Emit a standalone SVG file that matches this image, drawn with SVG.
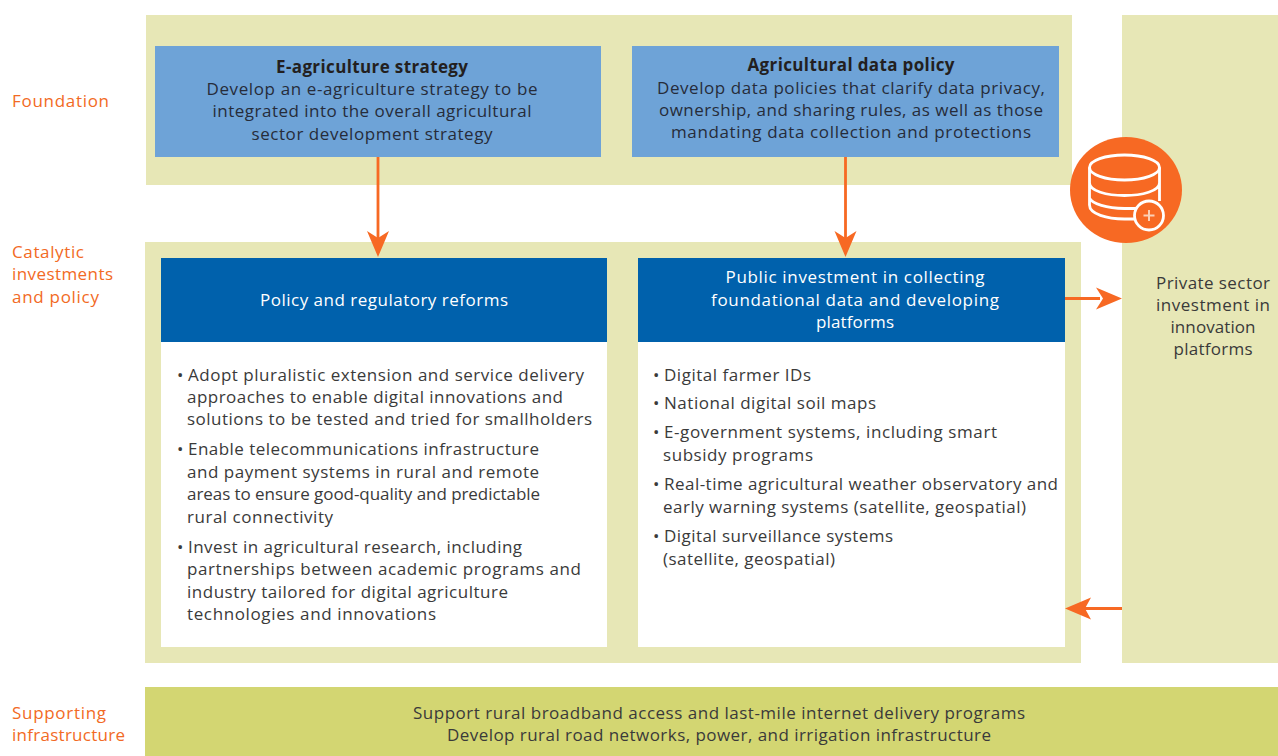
<svg xmlns="http://www.w3.org/2000/svg" width="1278" height="756" viewBox="0 0 1278 756">
<style>
text{font-family:"Open Sans","Noto Sans","Liberation Sans",sans-serif;font-size:17px;fill:#3a3a3a}
.c{text-anchor:middle}
.lab{fill:#f26a24}
.dk{fill:#262c3a}
.b{font-weight:700;fill:#231f20}
.w{fill:#fff}
.band{fill:#e7e7b6}
.bl{fill:#6ea3d7}
.hd{fill:#0061ac}
.cn{stroke:#f76923;stroke-width:2.800;fill:none}
.ah{fill:#f76923}
.ic{fill:none;stroke:#fff;stroke-width:2.800}
</style>
<rect width="1278" height="756" fill="#fff"/>
<g id="labels">
<text class="lab" x="12" y="106.500" textLength="97">Foundation</text>
<text class="lab" x="12" y="258" textLength="72">Catalytic</text>
<text class="lab" x="12" y="280" textLength="101">investments</text>
<text class="lab" x="12" y="303" textLength="87">and policy</text>
<text class="lab" x="12" y="719" textLength="94">Supporting</text>
<text class="lab" x="12" y="741" textLength="113">infrastructure</text>
</g>
<g id="foundation-band"><rect class="band" x="146" y="15" width="926" height="170"/></g>
<g id="catalytic-band"><rect class="band" x="145" y="242" width="936" height="421"/></g>
<g id="private-sector">
<rect class="band" x="1122" y="15" width="156" height="648"/>
<text class="c" x="1213" y="288.500" textLength="114">Private sector</text>
<text class="c" x="1213" y="311" textLength="114">investment in</text>
<text class="c" x="1213" y="333" textLength="85">innovation</text>
<text class="c" x="1213" y="355" textLength="79">platforms</text>
</g>
<g id="e-agriculture-strategy">
<rect class="bl" x="155" y="46" width="446" height="111"/>
<text class="c b" x="372" y="73" textLength="192">E-agriculture strategy</text>
<text class="c dk" x="372" y="95" textLength="331">Develop an e-agriculture strategy to be</text>
<text class="c dk" x="372" y="117" textLength="319">integrated into the overall agricultural</text>
<text class="c dk" x="372" y="140" textLength="241">sector development strategy</text>
</g>
<g id="agricultural-data-policy">
<rect class="bl" x="632" y="46" width="427" height="111"/>
<text class="c b" x="851" y="71" textLength="207">Agricultural data policy</text>
<text class="c dk" x="851" y="94" textLength="388">Develop data policies that clarify data privacy,</text>
<text class="c dk" x="851" y="116" textLength="384">ownership, and sharing rules, as well as those</text>
<text class="c dk" x="851" y="138" textLength="360">mandating data collection and protections</text>
</g>
<g id="policy-reforms">
<rect class="hd" x="161" y="258" width="446" height="84"/>
<rect fill="#fff" x="161" y="342" width="446" height="305"/>
<text class="c w" x="384" y="306" textLength="248">Policy and regulatory reforms</text>
<text x="177" y="381">•</text>
<text x="188" y="381" textLength="396">Adopt pluralistic extension and service delivery</text>
<text x="187" y="403" textLength="376">approaches to enable digital innovations and</text>
<text x="187" y="425" textLength="405">solutions to be tested and tried for smallholders</text>
<text x="177" y="455">•</text>
<text x="188" y="455" textLength="351">Enable telecommunications infrastructure</text>
<text x="187" y="478" textLength="352">and payment systems in rural and remote</text>
<text x="187" y="500" textLength="353">areas to ensure good-quality and predictable</text>
<text x="187" y="523" textLength="146">rural connectivity</text>
<text x="177" y="553">•</text>
<text x="188" y="553" textLength="334">Invest in agricultural research, including</text>
<text x="187" y="575" textLength="394">partnerships between academic programs and</text>
<text x="187" y="598" textLength="321">industry tailored for digital agriculture</text>
<text x="187" y="620" textLength="249">technologies and innovations</text>
</g>
<g id="public-investment">
<rect class="hd" x="638" y="258" width="427" height="84"/>
<rect fill="#fff" x="638" y="342" width="427" height="305"/>
<text class="c w" x="855" y="283" textLength="259">Public investment in collecting</text>
<text class="c w" x="855" y="306" textLength="288">foundational data and developing</text>
<text class="c w" x="855" y="328" textLength="78">platforms</text>
<text x="653" y="381">•</text>
<text x="664" y="381" textLength="147">Digital farmer IDs</text>
<text x="653" y="409">•</text>
<text x="664" y="409" textLength="212">National digital soil maps</text>
<text x="653" y="438">•</text>
<text x="664" y="438" textLength="333">E-government systems, including smart</text>
<text x="663" y="461" textLength="150">subsidy programs</text>
<text x="653" y="490">•</text>
<text x="664" y="490" textLength="394">Real-time agricultural weather observatory and</text>
<text x="663" y="513" textLength="363">early warning systems (satellite, geospatial)</text>
<text x="653" y="542">•</text>
<text x="664" y="542" textLength="229">Digital surveillance systems</text>
<text x="663" y="565" textLength="172">(satellite, geospatial)</text>
</g>
<g id="supporting-infrastructure">
<rect fill="#d3d672" x="145" y="687" width="1133" height="69"/>
<text class="c" x="719" y="719" textLength="612">Support rural broadband access and last-mile internet delivery programs</text>
<text class="c" x="719" y="741" textLength="544">Develop rural road networks, power, and irrigation infrastructure</text>
</g>
<g id="connectors">
<path class="cn" d="M378 157V240M845.500 157V240M1065 298.500H1100M1122 608.500H1085"/>
<path class="ah" d="M378 257L367 231L378 238L389 231Z"/>
<path class="ah" d="M845.500 257L834.500 231L845.500 238L856.500 231Z"/>
<path class="ah" d="M1122 298.500L1096 287.500L1103 298.500L1096 309.500Z"/>
<path class="ah" d="M1065 608.500L1091 597.500L1085 608.500L1091 619.500Z"/>
</g>
<g id="database-icon">
<ellipse cx="1126" cy="190" rx="56" ry="53" fill="#f76923"/>
<ellipse class="ic" cx="1124.500" cy="167.500" rx="35" ry="12.500"/>
<path class="ic" d="M1089.500 167.500V205C1089.500 214 1107 219 1124.500 219H1136M1089.500 183C1089.500 191 1107 195.500 1124.500 195.500C1142 195.500 1159.500 191 1159.500 183M1089.500 198C1092 204 1107 208 1124.500 208.500H1137M1159.500 167.500V201"/>
<circle cx="1149" cy="215.500" r="14.500" fill="#f76923" stroke="#fff" stroke-width="2.800"/>
<path d="M1143.500 215.500H1154.500M1149 210V221" stroke="#fbd0b5" stroke-width="2" fill="none"/>
</g>
</svg>
